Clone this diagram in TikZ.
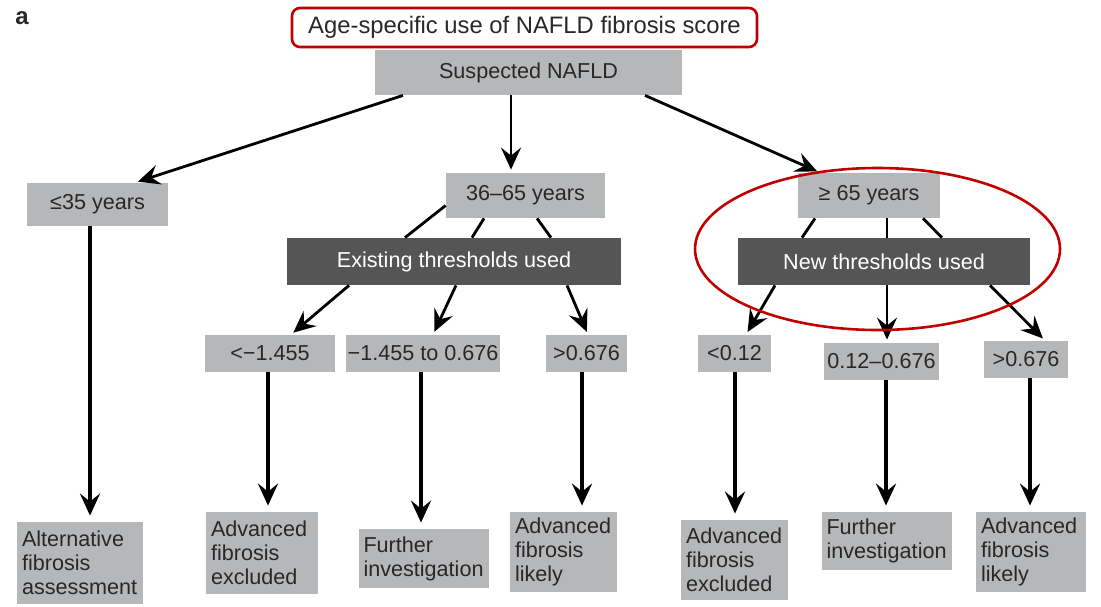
\documentclass[tikz,border=0pt]{standalone}
\usepackage{fontspec}
\setmainfont{Liberation Sans}
\usetikzlibrary{positioning,shapes,arrows.meta}

\definecolor{boxgray}{RGB}{182,183,185}
\definecolor{boxdark}{RGB}{85,85,85}
\definecolor{txtgray}{RGB}{40,40,40}
\definecolor{markred}{RGB}{192,0,0}

\begin{document}
\begin{tikzpicture}[
  x=0.5pt, y=-0.5pt,
  font=\fontsize{10.8}{12}\selectfont,
  graynode/.style={rectangle, fill=boxgray, text=txtgray, inner sep=0pt, minimum height=18.5pt},
  darknode/.style={rectangle, fill=boxdark, text=white, inner sep=0pt, minimum height=23.5pt},
  endnode/.style={rectangle, fill=boxgray, text=txtgray, align=left, inner xsep=2.5pt, inner ysep=0pt, text width=#1},
  titlenode/.style={rectangle, rounded corners=4pt, draw=markred, line width=1.3pt, fill=white, text=txtgray, inner sep=0pt, font=\fontsize{11.9}{13}\selectfont},
  arrowline/.style={line width=1.4pt, shorten >=1.5pt, -{Stealth[length=11pt,width=10pt,inset=4pt]}},
  downline/.style={arrowline, line width=1.9pt, shorten >=3pt},
  plainline/.style={line width=1.4pt}
]
\useasboundingbox (0,0) rectangle (1101,606);

%Nodes
\node[font=\fontsize{12}{14}\selectfont\bfseries, text=txtgray] (panel) at (22,18) {a};
\node[titlenode, minimum width=232.5pt, minimum height=19.5pt] (title) at (524.5,27.5) {Age-specific use of NAFLD fibrosis score};
\node[graynode, minimum width=153.5pt, minimum height=22.5pt] (suspect) at (528.5,72.5) {Suspected NAFLD};

\node[graynode, minimum width=70.5pt, minimum height=21.5pt] (young) at (97.5,204.5) {≤35 years};
\node[graynode, minimum width=79.5pt, minimum height=22.5pt] (middle) at (525.5,195.5) {36–65 years};
\node[graynode, minimum width=71pt, minimum height=22.5pt] (older) at (869,195.5) {≥ 65 years};

\node[darknode, minimum width=167pt] (existing) at (454,261.5) {Existing thresholds used};
\node[darknode, minimum width=146pt] (new) at (884,261.5) {New thresholds used};

\node[graynode, minimum width=65pt] (exlow) at (270,353.5) {<−1.455};
\node[graynode, minimum width=77pt] (exmid) at (423,353.5) {−1.455 to 0.676};
\node[graynode, minimum width=40.5pt] (exhigh) at (586.5,353.5) {>0.676};
\node[graynode, minimum width=36.5pt] (nwlow) at (734.5,353.5) {<0.12};
\node[graynode, minimum width=57.5pt] (nwmid) at (881.5,361.5) {0.12–0.676};
\node[graynode, minimum width=42pt] (nwhigh) at (1026,359.5) {>0.676};

\node[endnode=58pt, minimum height=41pt] (altassess) at (80,563) {Alternative\\fibrosis\\assessment};
\node[endnode=51pt, minimum height=41pt] (exexcl) at (262,553) {Advanced\\fibrosis\\excluded};
\node[endnode=60pt, minimum height=29.5pt] (exfurther) at (423.5,558.5) {Further\\investigation};
\node[endnode=48.5pt, minimum height=40pt] (exlikely) at (563.5,552) {Advanced\\fibrosis\\likely};
\node[endnode=48.5pt, minimum height=40pt] (nwexcl) at (734.5,560) {Advanced\\fibrosis\\excluded};
\node[endnode=60pt, minimum height=29pt] (nwfurther) at (886.5,541) {Further\\investigation};
\node[endnode=50pt, minimum height=40pt] (nwlikely) at (1031,552) {Advanced\\fibrosis\\likely};

%Arrows
\draw[arrowline] (suspect.south -| 403,0) -- (young.north -| 135,0);
\draw[arrowline] (suspect.south -| 511,0) -- (middle.north -| 511,0);
\draw[arrowline] (suspect.south -| 645,0) -- (older.north -| 820,0);

\draw[plainline] ([yshift=-5pt]middle.west) -- (existing.north -| 405,0);
\draw[plainline] (middle.south -| 484,0) -- (existing.north -| 472,0);
\draw[plainline] (middle.south -| 537,0) -- (existing.north -| 551,0);
\draw[plainline] (older.south -| 815,0) -- (new.north -| 802,0);
\draw[plainline] (older.south -| 887,0) -- (new.north -| 887,0);
\draw[plainline] (older.south -| 923,0) -- (new.north -| 942,0);

\draw[arrowline] (existing.south -| 349,0) -- (exlow.north -| 291,0);
\draw[arrowline] (existing.south -| 456,0) -- (exmid.north -| 433,0);
\draw[arrowline] (existing.south -| 567,0) -- (exhigh.north -| 588,0);
\draw[arrowline] (new.south -| 775,0) -- (nwlow.north -| 746,0);
\draw[arrowline] (new.south -| 887,0) -- (nwmid.north -| 887,0);
\draw[arrowline] (new.south -| 990,0) -- (nwhigh.north -| 1045,0);

\draw[downline] (young.south -| 90,0) -- (altassess.north -| 90,0);
\draw[downline] (exlow.south -| 268,0) -- (exexcl.north -| 268,0);
\draw[downline] (exmid.south -| 421,0) -- (exfurther.north -| 421,0);
\draw[downline] (exhigh.south -| 582,0) -- (exlikely.north -| 582,0);
\draw[downline] (nwlow.south -| 735,0) -- (nwexcl.north -| 735,0);
\draw[downline] (nwmid.south -| 886,0) -- (nwfurther.north -| 886,0);
\draw[downline] (nwhigh.south -| 1030,0) -- (nwlikely.north -| 1030,0);

%Highlight
\draw[markred, line width=1.3pt] (877.5,249) ellipse [x radius=91.25pt, y radius=40.5pt];
\end{tikzpicture}
\end{document}
